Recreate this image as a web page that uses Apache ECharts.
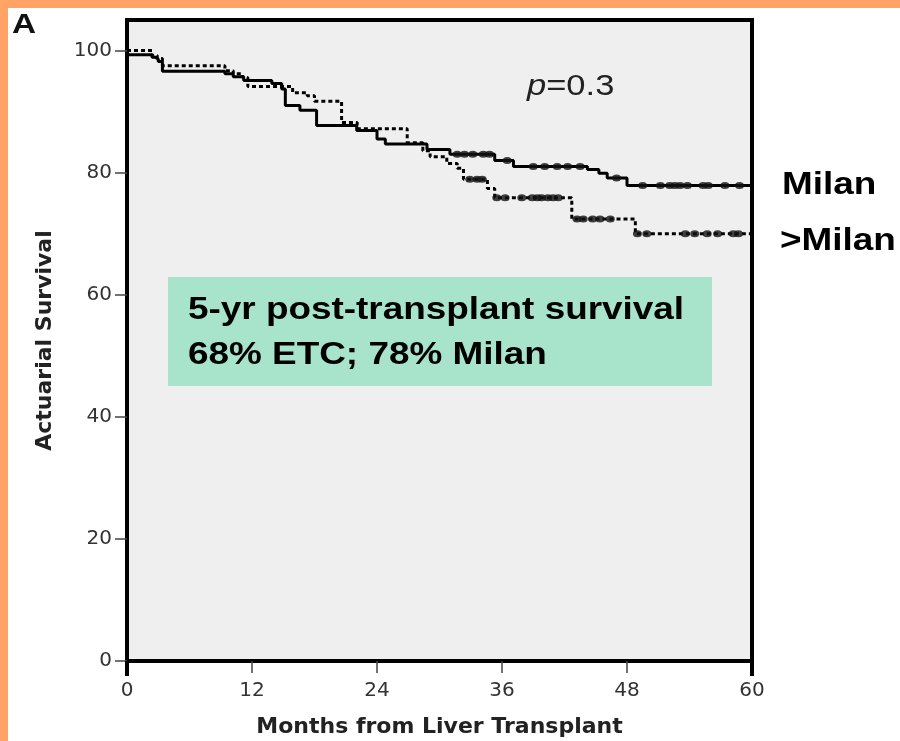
<!DOCTYPE html>
<html>
<head>
<meta charset="utf-8">
<script src="https://cdn.jsdelivr.net/npm/echarts@6/dist/echarts.min.js"></script>
<style>
  html, body { margin: 0; padding: 0; background: #ffffff; }
  #chart { width: 900px; height: 741px; }
</style>
</head>
<body>
<div id="chart"></div>
<script>
// Kaplan-Meier survival after liver transplant, two groups.
// Event times (months) and survival (%) right after each step.
const milanTimes    = [0, 2.4, 2.7, 3.0, 3.4, 9.4, 10.2, 11.2, 13.9, 14.85, 15.2, 16.6, 18.2, 22.05, 24.0, 24.8, 28.8, 31.0, 35.3, 37.1, 44.2, 45.3, 46.1, 48.0, 60];
const milanSurv     = [99.3, 98.9, 98.6, 98.2, 96.6, 96.2, 95.7, 95.1, 94.6, 93.7, 91.0, 90.2, 87.7, 86.9, 85.5, 84.7, 83.8, 83.0, 82.0, 81.0, 80.5, 79.9, 79.1, 77.9, 77.9];
const beyondTimes   = [0, 2.4, 2.9, 3.4, 9.4, 10.2, 11.1, 11.6, 15.9, 17.3, 18.0, 20.6, 22.1, 26.9, 28.4, 29.1, 30.7, 31.7, 32.3, 34.6, 35.3, 42.7, 48.8, 60];
const beyondSurv    = [100, 99.2, 98.7, 97.5, 96.7, 96.2, 95.6, 94.1, 93.1, 92.6, 91.7, 88.2, 87.2, 84.9, 83.6, 82.6, 81.5, 80.7, 78.9, 77.4, 75.9, 72.4, 70.0, 70.0];

// Censored observations (months)
const milanCensored  = [31.7, 32.4, 33.2, 34.2, 34.8, 36.5, 39.0, 40.1, 41.3, 42.3, 43.5, 47.0, 49.5, 51.2, 52.1, 52.6, 53.1, 53.8, 55.3, 55.8, 57.4, 58.8];
const beyondCensored = [32.9, 33.6, 34.1, 35.5, 36.3, 37.9, 38.9, 39.4, 39.8, 40.4, 40.9, 41.4, 43.2, 43.8, 44.7, 45.4, 46.4, 49.0, 49.9, 53.6, 54.5, 55.7, 56.7, 58.2, 58.7];

// Axis ticks
const xTicks = [0, 12, 24, 36, 48, 60];
const yTicks = [0, 20, 40, 60, 80, 100];

const pairs = (ts, ss) => ts.map((t, i) => [t, ss[i]]);
// Survival value of a step curve at time t
function survAt(ts, ss, t) {
  let v = ss[0];
  for (let i = 0; i < ts.length; i++) { if (ts[i] <= t) v = ss[i]; }
  return v;
}
const censorPts = (cs, ts, ss) => cs.map(t => [t, survAt(ts, ss, t)]);

const chart = echarts.init(document.getElementById('chart'), null, { renderer: 'canvas' });

const axisFont = { fontFamily: 'DejaVu Sans', fontSize: 20, color: '#333' };
const titleFont = { fontFamily: 'DejaVu Sans', fontWeight: 'bold', fontSize: 22, color: '#222' };

chart.setOption({
  animation: false,
  backgroundColor: '#ffffff',
  grid: {
    left: 127, right: 148, top: 20, bottom: 80,
    show: true, backgroundColor: '#efefef', borderColor: '#000', borderWidth: 4,
    containLabel: false, outerBoundsMode: 'none'
  },
  xAxis: [{
    type: 'value', min: 0, max: 60, interval: 12,
    axisLine: { show: false },
    splitLine: { show: false },
    axisTick: { show: true, length: 12, customValues: [12, 24, 36, 48], lineStyle: { color: '#444', width: 1.5 } },
    axisLabel: Object.assign({ margin: 20, customValues: xTicks }, axisFont),
    name: 'Months from Liver Transplant',
    nameLocation: 'middle', nameGap: 55,
    nameTextStyle: titleFont
  }, {
    type: 'value', min: 0, max: 60, position: 'bottom',
    axisLine: { show: false }, splitLine: { show: false },
    axisLabel: { show: false },
    axisTick: { show: true, length: 15, customValues: [0, 60], lineStyle: { color: '#000', width: 4 } }
  }],
  yAxis: {
    type: 'value', min: 0, max: 105, interval: 20,
    axisLine: { show: false },
    splitLine: { show: false },
    axisTick: { show: true, length: 12, customValues: yTicks, lineStyle: { color: '#444', width: 1.5 } },
    axisLabel: Object.assign({ margin: 15, customValues: yTicks }, axisFont),
    name: 'Actuarial Survival',
    nameLocation: 'middle', nameGap: 71,
    nameTextStyle: titleFont
  },
  series: [{
    name: 'Milan', type: 'line', step: 'end', showSymbol: false,
    data: pairs(milanTimes, milanSurv),
    lineStyle: { color: '#000', width: 3, type: 'solid' }, z: 3
  }, {
    name: '>Milan', type: 'line', step: 'end', showSymbol: false,
    data: pairs(beyondTimes, beyondSurv),
    lineStyle: { color: '#000', width: 3, type: [4, 3] }, z: 3
  }, {
    name: 'Milan censored', type: 'scatter', symbol: 'circle', symbolSize: [9, 7],
    data: censorPts(milanCensored, milanTimes, milanSurv),
    itemStyle: { color: '#111' }, z: 4
  }, {
    name: '>Milan censored', type: 'scatter', symbol: 'circle', symbolSize: [9, 7],
    data: censorPts(beyondCensored, beyondTimes, beyondSurv),
    itemStyle: { color: '#111' }, z: 4
  }],
  graphic: [
    { type: 'rect', left: 0, top: 0, shape: { width: 900, height: 8 }, style: { fill: '#ffa366' }, z: 10 },
    { type: 'rect', left: 0, top: 0, shape: { width: 8, height: 741 }, style: { fill: '#ffa366' }, z: 10 },
    { type: 'text', x: 12, y: 25, scaleX: 1.19, z: 10,
      style: { text: 'A', font: 'bold 28px "Liberation Sans", Arial, sans-serif', fill: '#111', verticalAlign: 'middle' } },
    { type: 'text', x: 527, y: 87, scaleX: 1.19, z: 10,
      style: { text: '{i|p}=0.3', font: '29px "Liberation Sans", Arial, sans-serif', fill: '#222', verticalAlign: 'middle',
        rich: { i: { fontStyle: 'italic', fontSize: 29, fontFamily: 'Liberation Sans', fill: '#222' } } } },
    { type: 'text', x: 782, y: 185, scaleX: 1.19, z: 10,
      style: { text: 'Milan', font: 'bold 31px "Liberation Sans", Arial, sans-serif', fill: '#000', verticalAlign: 'middle' } },
    { type: 'text', x: 780, y: 241, scaleX: 1.19, z: 10,
      style: { text: '>Milan', font: 'bold 31px "Liberation Sans", Arial, sans-serif', fill: '#000', verticalAlign: 'middle' } },
    { type: 'rect', x: 168, y: 277, shape: { width: 544, height: 109 }, style: { fill: '#a8e4cc' }, z: 10 },
    { type: 'text', x: 188, y: 310, scaleX: 1.19, z: 11,
      style: { text: '5-yr post-transplant survival', font: 'bold 31px "Liberation Sans", Arial, sans-serif', fill: '#000', verticalAlign: 'middle' } },
    { type: 'text', x: 188, y: 355, scaleX: 1.19, z: 11,
      style: { text: '68% ETC; 78% Milan', font: 'bold 31px "Liberation Sans", Arial, sans-serif', fill: '#000', verticalAlign: 'middle' } }
  ]
});
</script>
</body>
</html>
